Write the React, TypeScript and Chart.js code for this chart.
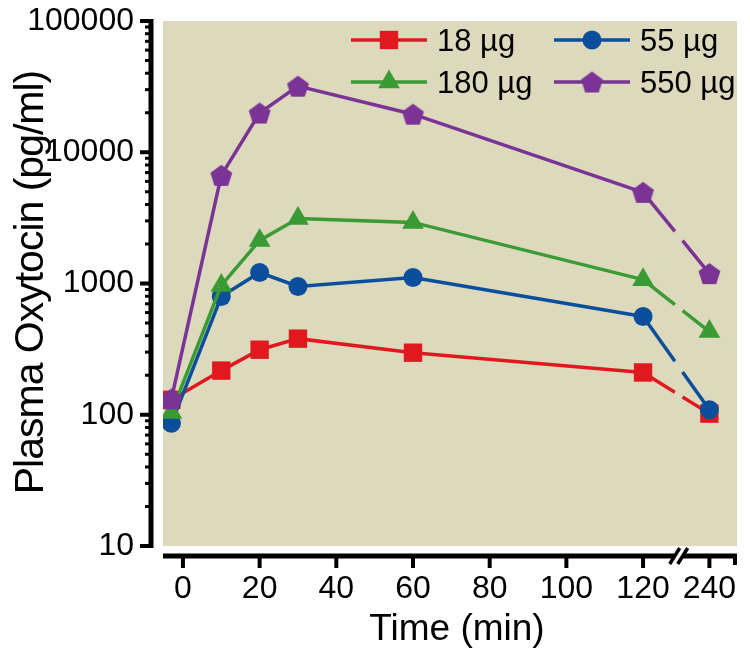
import React, { useEffect, useRef } from "react";
import { Chart, registerables } from "chart.js";

Chart.register(...registerables);

// ---------------- data ----------------
const timesMin = [-3, 10, 20, 30, 60, 120, 240];
const dose18 = [130, 217, 313, 380, 297, 210, 102];
const dose55 = [86, 796, 1213, 949, 1110, 560, 109];
const dose180 = [104, 966, 2130, 3130, 2920, 1070, 430];
const dose550 = [132, 6670, 19900, 31900, 19500, 4950, 1190];
const seriesLabels = ["18 µg", "55 µg", "180 µg", "550 µg"];
const xTickLabels = [0, 20, 40, 60, 80, 100, 120, 240];
const yTickLabels = [10, 100, 1000, 10000, 100000];

// broken x axis: times beyond the break are placed at a compressed position
const BREAK_START = 128.3;
const BREAK_END = 130.3;
const LATE_VALUE = 240;
const LATE_POS = 137.3;
const toAxis = (t: number) => (t > BREAK_START ? LATE_POS + (t - LATE_VALUE) * 0.05 : t);

// ---------------- styles ----------------
const RED = "#e0191f";
const BLUE = "#0b4f9c";
const GREEN = "#3a9b34";
const PURPLE = "#7b3395";
const BG = "#dcd9bd";
const FONT = '"Liberation Sans", Arial, Helvetica, sans-serif';

function makePentagon(color: string, r: number): HTMLCanvasElement {
  const size = Math.ceil(r * 2 + 2);
  const c = document.createElement("canvas");
  c.width = size;
  c.height = size;
  const g = c.getContext("2d")!;
  const cx = size / 2;
  const cy = size / 2 + r * 0.095;
  g.fillStyle = color;
  g.beginPath();
  for (let i = 0; i < 5; i++) {
    const a = -Math.PI / 2 + (i * 2 * Math.PI) / 5;
    const px = cx + r * Math.cos(a);
    const py = cy + r * Math.sin(a);
    if (i === 0) g.moveTo(px, py);
    else g.lineTo(px, py);
  }
  g.closePath();
  g.fill();
  return c;
}

const segmentDash = (ctx: any) => {
  const x0 = toAxis(timesMin[ctx.p0DataIndex]);
  const x1 = toAxis(timesMin[ctx.p1DataIndex]);
  if (!(x0 < BREAK_START && x1 > BREAK_END)) return undefined;
  const L = Math.hypot(ctx.p1.x - ctx.p0.x, ctx.p1.y - ctx.p0.y);
  const f1 = (BREAK_START - x0) / (x1 - x0);
  const f2 = (BREAK_END - x0) / (x1 - x0);
  return [f1 * L, (f2 - f1) * L, L * 2];
};

type MarkerSpec = { style: string; r: number; color: string; img?: HTMLCanvasElement };

function drawMarker(ctx: CanvasRenderingContext2D, m: MarkerSpec, x: number, y: number) {
  ctx.save();
  ctx.fillStyle = m.color;
  if (m.style === "rect") {
    const s = Math.SQRT1_2 * m.r;
    ctx.fillRect(x - s, y - s, 2 * s, 2 * s);
  } else if (m.style === "circle") {
    ctx.beginPath();
    ctx.arc(x, y, m.r, 0, Math.PI * 2);
    ctx.fill();
  } else if (m.style === "triangle") {
    ctx.beginPath();
    for (let i = 0; i < 3; i++) {
      const a = (i * 2 * Math.PI) / 3;
      const px = x + Math.sin(a) * m.r;
      const py = y - Math.cos(a) * m.r;
      if (i === 0) ctx.moveTo(px, py);
      else ctx.lineTo(px, py);
    }
    ctx.closePath();
    ctx.fill();
  } else if (m.img) {
    ctx.drawImage(m.img, x - m.img.width / 2, y - m.img.height / 2);
  }
  ctx.restore();
}

export default function App() {
  const canvasRef = useRef<HTMLCanvasElement | null>(null);

  useEffect(() => {
    if (!canvasRef.current) return;
    Chart.defaults.font.family = FONT;

    const pent = makePentagon(PURPLE, 11.5);
    const markers: MarkerSpec[] = [
      { style: "rect", r: 13, color: RED },
      { style: "circle", r: 9.5, color: BLUE },
      { style: "triangle", r: 12.5, color: GREEN },
      { style: "image", r: 11.5, color: PURPLE, img: pent },
    ];
    const values = [dose18, dose55, dose180, dose550];
    const colors = [RED, BLUE, GREEN, PURPLE];
    const orders = [4, 3, 2, 1];

    const datasets = values.map((vals, i) => ({
      label: seriesLabels[i],
      data: timesMin.map((t, j) => ({ x: toAxis(t), y: vals[j] })),
      borderColor: colors[i],
      backgroundColor: colors[i],
      borderWidth: 3.5,
      pointStyle: (markers[i].img ? markers[i].img : markers[i].style) as any,
      pointRadius: markers[i].r,
      pointBorderWidth: 0,
      pointHoverRadius: markers[i].r,
      tension: 0,
      order: orders[i],
      segment: { borderDash: segmentDash },
    }));

    const line = (ctx: CanvasRenderingContext2D, x1: number, y1: number, x2: number, y2: number) => {
      ctx.beginPath();
      ctx.moveTo(x1, y1);
      ctx.lineTo(x2, y2);
      ctx.stroke();
    };

    const decor = {
      id: "decor",
      beforeDraw(chart: any) {
        const { ctx, chartArea: a } = chart;
        ctx.save();
        ctx.fillStyle = BG;
        ctx.fillRect(a.left, a.top, a.right - a.left, a.bottom - a.top);
        ctx.restore();
      },
      afterDraw(chart: any) {
        const { ctx, chartArea: a, scales } = chart;
        const xs = scales.x;
        const ys = scales.y;
        ctx.save();
        ctx.strokeStyle = "#000";
        ctx.fillStyle = "#000";
        ctx.lineCap = "butt";

        // y axis
        const yx = a.left - 12;
        ctx.lineWidth = 5;
        line(ctx, yx, ys.getPixelForValue(100000) - 2, yx, ys.getPixelForValue(10) + 2);
        ctx.lineWidth = 4;
        for (const v of yTickLabels) {
          const py = ys.getPixelForValue(v);
          line(ctx, yx - 11, py, yx, py);
        }
        ctx.lineWidth = 3;
        for (let d = 10; d < 100000; d *= 10) {
          for (let k = 2; k <= 9; k++) {
            const py = ys.getPixelForValue(d * k);
            line(ctx, yx - 6, py, yx, py);
          }
        }

        // x axis with break
        const xy = a.bottom + 10;
        const bc = xs.getPixelForValue((BREAK_START + BREAK_END) / 2);
        ctx.lineWidth = 5;
        line(ctx, a.left, xy, bc - 4, xy);
        line(ctx, bc + 4, xy, a.right, xy);
        ctx.lineWidth = 3.5;
        line(ctx, bc - 4 - 5, xy + 8, bc - 4 + 5, xy - 8);
        line(ctx, bc + 4 - 5, xy + 8, bc + 4 + 5, xy - 8);
        ctx.lineWidth = 4;
        for (const t of xTickLabels) {
          const px = xs.getPixelForValue(toAxis(t));
          line(ctx, px, xy, px, xy + 12);
        }
        line(ctx, a.right - 2, xy, a.right - 2, xy + 9);

        // axis titles
        ctx.textAlign = "center";
        ctx.textBaseline = "alphabetic";
        ctx.save();
        ctx.font = `41px ${FONT}`;
        try {
          (ctx as any).letterSpacing = "-1px";
        } catch (e) {}
        ctx.translate(43, (a.top + a.bottom) / 2 - 1);
        ctx.rotate(-Math.PI / 2);
        ctx.fillText("Plasma Oxytocin (pg/ml)", 0, 0);
        ctx.restore();
        ctx.font = `37px ${FONT}`;
        ctx.fillText("Time (min)", (a.left + a.right) / 2 + 7, 640);

        // legend (2 columns)
        const colX = [a.right - 386, a.right - 183];
        const rowY = [a.top + 19, a.top + 61];
        ctx.font = `31px ${FONT}`;
        ctx.textAlign = "left";
        ctx.textBaseline = "middle";
        for (let i = 0; i < 4; i++) {
          const x = colX[i % 2];
          const y = rowY[Math.floor(i / 2)];
          ctx.strokeStyle = colors[i];
          ctx.lineWidth = 3.5;
          line(ctx, x, y, x + 76, y);
          drawMarker(ctx, markers[i], x + 38, y);
          ctx.fillStyle = "#000";
          ctx.fillText(seriesLabels[i], x + 86, y + 2);
        }
        ctx.restore();
      },
    };

    const zeroPad = (s: any) => {
      s.paddingTop = 0;
      s.paddingBottom = 0;
      s.paddingLeft = 0;
      s.paddingRight = 0;
    };

    const chart = new Chart(canvasRef.current, {
      type: "line",
      data: { datasets: datasets as any },
      options: {
        animation: false,
        responsive: false,
        events: [],
        layout: { padding: { top: 21, right: 7, left: 0, bottom: 0 } },
        plugins: { legend: { display: false }, tooltip: { enabled: false } },
        scales: {
          x: {
            type: "linear",
            min: -5.2,
            max: 144.5,
            grid: { display: false, drawTicks: false },
            border: { display: false },
            afterBuildTicks: (s: any) => {
              s.ticks = xTickLabels.map((t) => ({ value: toAxis(t) }));
            },
            afterFit: (s: any) => {
              s.height = 110;
              zeroPad(s);
            },
            ticks: {
              autoSkip: false,
              maxRotation: 0,
              padding: 24,
              color: "#000",
              font: { size: 32 },
              callback: (v: any) => {
                const t = xTickLabels.find((tt) => Math.abs(toAxis(tt) - Number(v)) < 1e-6);
                return t === undefined ? "" : String(t);
              },
            },
          },
          y: {
            type: "logarithmic",
            min: 10,
            max: 100000,
            grid: { display: false, drawTicks: false },
            border: { display: false },
            afterBuildTicks: (s: any) => {
              s.ticks = yTickLabels.map((v) => ({ value: v }));
            },
            afterFit: (s: any) => {
              s.width = 163;
              zeroPad(s);
            },
            ticks: {
              autoSkip: false,
              padding: 29,
              color: "#000",
              font: { size: 32 },
              callback: (v: any) => String(v),
            },
          },
        },
      },
      plugins: [decor],
    });

    return () => chart.destroy();
  }, []);

  return (
    <div style={{ position: "absolute", left: 0, top: 0, width: 750, height: 656, background: "#fff" }}>
      <canvas ref={canvasRef} width={750} height={656} />
    </div>
  );
}
